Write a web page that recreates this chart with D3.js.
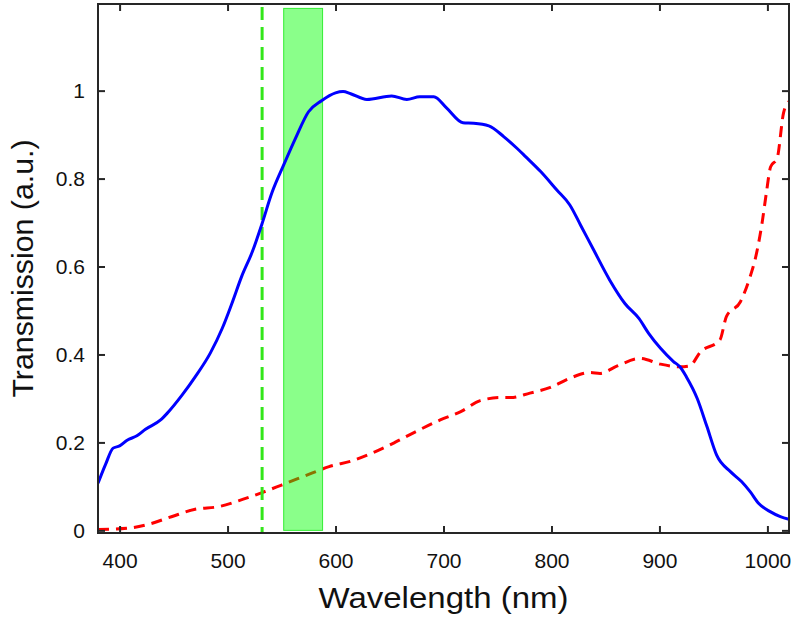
<!DOCTYPE html>
<html>
<head>
<meta charset="utf-8">
<script src="https://cdn.jsdelivr.net/npm/d3@7"></script>
<style>
body{margin:0;background:#fff;}
svg{display:block;}
</style>
</head>
<body>
<svg id="chart" width="800" height="620"></svg>
<script>
// Data
const blueX = [380,387,394,400,407,416,424,438,444,458,470,484,495,504,513,523,532,541,552,563,575,587,600,607,614,629,652,666,678,691,703,718,728,742,756,768,776,790,805,817,827,839,854,868,881,890,901,913,919,925,935,944,953,966,976,984,992,1003,1012,1020];
const blueY = [0.107,0.150,0.187,0.192,0.205,0.215,0.230,0.251,0.266,0.308,0.349,0.403,0.459,0.516,0.577,0.634,0.698,0.767,0.831,0.892,0.952,0.977,0.995,0.998,0.993,0.980,0.988,0.980,0.986,0.986,0.960,0.927,0.926,0.920,0.895,0.869,0.850,0.816,0.774,0.740,0.694,0.638,0.569,0.516,0.482,0.448,0.414,0.384,0.372,0.349,0.300,0.236,0.171,0.133,0.111,0.088,0.061,0.042,0.031,0.025];
const redX = [380,408,427,448,470,492,510,532,550,578,594,615,637,655,674,697,716,734,753,762,780,799,817,836,845,861,882,901,919,928,938,956,962,975,984,989,995,999,1003,1009,1015,1020];
const redY = [0.002,0.005,0.014,0.031,0.048,0.054,0.067,0.086,0.103,0.130,0.145,0.158,0.179,0.200,0.224,0.251,0.270,0.295,0.302,0.302,0.312,0.325,0.346,0.359,0.357,0.374,0.391,0.378,0.372,0.374,0.406,0.433,0.486,0.520,0.577,0.620,0.698,0.767,0.827,0.846,0.950,0.975];
const laserLine = [532];
const bandX = [552, 588];
const bandY = [0, 1.187];
const xTicks = [400,500,600,700,800,900,1000];
const yTicks = [0,0.2,0.4,0.6,0.8,1];
const xDomain = [380, 1020];
const yDomain = [-0.006, 1.197];

const L = 98, R = 789, T = 4, B = 533;
const svg = d3.select("#chart");
const x = d3.scaleLinear().domain(xDomain).range([L, R]);
const y = d3.scaleLinear().domain(yDomain).range([B, T]);

svg.append("defs").append("clipPath").attr("id","clip")
  .append("rect").attr("x",L).attr("y",T).attr("width",R-L).attr("height",B-T);

const plot = svg.append("g").attr("clip-path","url(#clip)");
const line = d3.line().x(d=>x(d[0])).y(d=>y(d[1])).curve(d3.curveMonotoneX);

// red dashed
plot.append("path").datum(redX.map((v,i)=>[v,redY[i]]))
  .attr("d", line).attr("fill","none").attr("stroke","#ff0000")
  .attr("stroke-width",3).attr("stroke-dasharray","11,7");

// green band
plot.append("rect")
  .attr("x", x(bandX[0])).attr("y", y(bandY[1]))
  .attr("width", x(bandX[1]) - x(bandX[0])).attr("height", y(bandY[0]) - y(bandY[1]))
  .attr("fill","rgba(0,255,0,0.46)").attr("stroke","#33ee33").attr("stroke-width",1);

// green dashed vertical line
plot.selectAll(".laser").data(laserLine).enter().append("line")
  .attr("x1", d=>x(d)).attr("x2", d=>x(d))
  .attr("y1", y(1.19)).attr("y2", B)
  .attr("stroke","#33e61a").attr("stroke-width",3).attr("stroke-dasharray","13,7");

// blue line
plot.append("path").datum(blueX.map((v,i)=>[v,blueY[i]]))
  .attr("d", line).attr("fill","none").attr("stroke","#0000ff")
  .attr("stroke-width",3).attr("stroke-linejoin","round");

const axCol = "#262626";
const fontTick = "'Liberation Sans', Arial, sans-serif";

// axes
const xAx = svg.append("g").attr("transform",`translate(0,${B})`)
  .call(d3.axisBottom(x).tickValues(xTicks).tickSizeInner(-7).tickSizeOuter(0).tickPadding(20).tickFormat(d3.format("d")));
const yAx = svg.append("g").attr("transform",`translate(${L},0)`)
  .call(d3.axisLeft(y).tickValues(yTicks).tickSizeInner(-7).tickSizeOuter(0).tickPadding(13).tickFormat(d=>d===0?"0":d===1?"1":d3.format(".1f")(d)));
const xTop = svg.append("g").attr("transform",`translate(0,${T})`)
  .call(d3.axisTop(x).tickValues(xTicks).tickSizeInner(-7).tickSizeOuter(0).tickFormat(""));
const yRight = svg.append("g").attr("transform",`translate(${R},0)`)
  .call(d3.axisRight(y).tickValues(yTicks).tickSizeInner(-7).tickSizeOuter(0).tickFormat(""));

[xAx,yAx,xTop,yRight].forEach(g=>{
  g.select(".domain").remove();
  g.selectAll(".tick line").attr("stroke",axCol).attr("stroke-width",2);
  g.selectAll(".tick text").attr("fill","#111").style("font-family",fontTick).style("font-size","21px");
});

// frame
svg.append("rect").attr("x",L).attr("y",T).attr("width",R-L).attr("height",B-T)
  .attr("fill","none").attr("stroke",axCol).attr("stroke-width",2);

// labels
svg.append("text").attr("x",(L+R)/2).attr("y",608).attr("text-anchor","middle")
  .style("font-family",fontTick).style("font-size","30px").attr("fill","#111")
  .attr("textLength",250).attr("lengthAdjust","spacingAndGlyphs")
  .text("Wavelength (nm)");
svg.append("text").attr("transform",`translate(33,${(T+B)/2}) rotate(-90)`).attr("text-anchor","middle")
  .style("font-family",fontTick).style("font-size","30px").attr("fill","#111")
  .attr("textLength",258).attr("lengthAdjust","spacingAndGlyphs")
  .text("Transmission (a.u.)");
</script>
</body>
</html>
